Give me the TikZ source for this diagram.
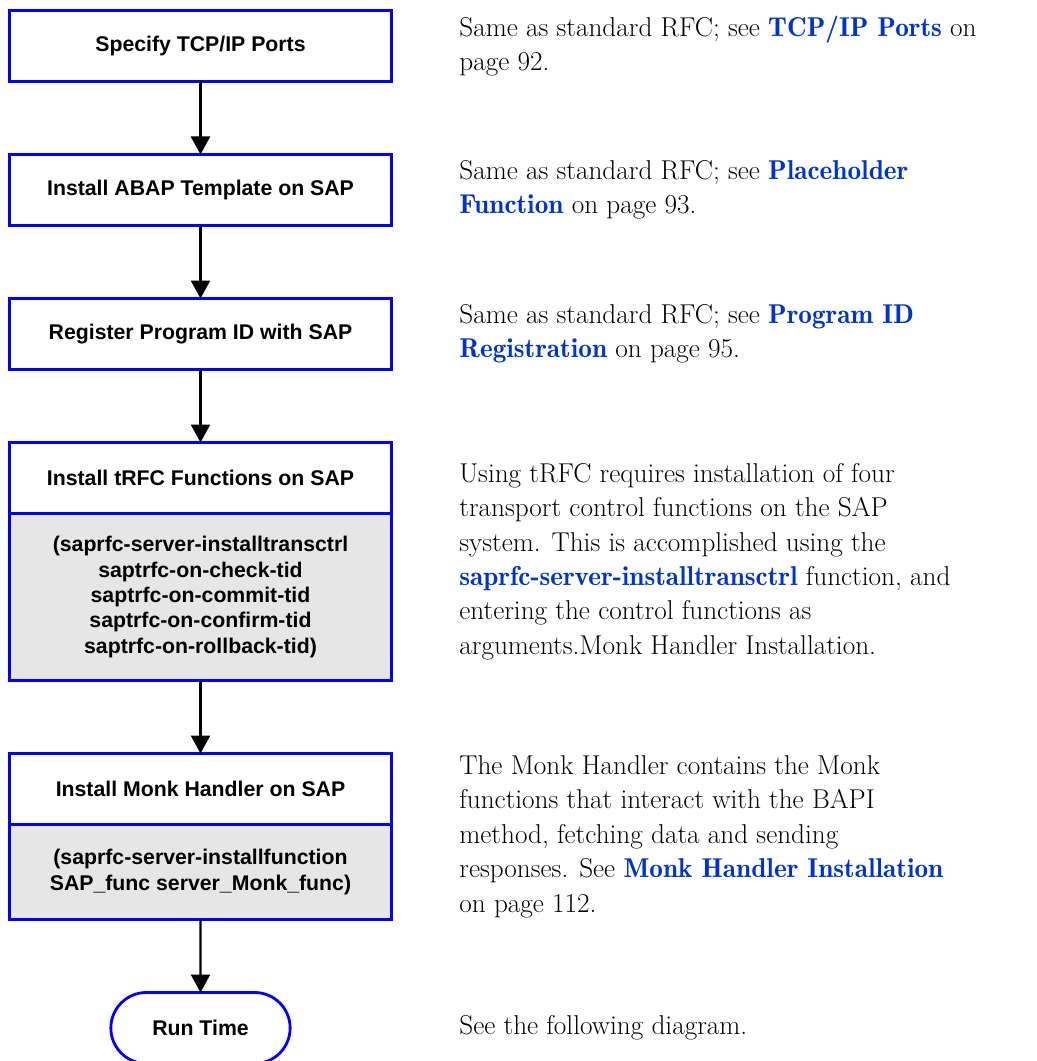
\documentclass[tikz,border=0pt]{standalone}
\usepackage{fontspec}
\setsansfont{Liberation Sans}
\usepackage{xcolor}
\usepackage{tikz}
\usetikzlibrary{arrows.meta,positioning,shapes.misc,calc}
\IfFontExistsTF{lmromandemi10-regular.otf}
  {\newfontfamily\demifont{lmromandemi10-regular.otf}}
  {\newcommand{\demifont}{\bfseries}}
\definecolor{FlowBlue}{HTML}{0000FF}
\definecolor{LinkBlue}{HTML}{0033CC}
\definecolor{ArgGray}{HTML}{E6E6E6}
\newcommand{\xref}[1]{{\demifont\color{LinkBlue}#1}}
\tikzset{
  stepbox/.style={draw=FlowBlue,line width=1.6pt,fill=white,outer sep=0pt,
    minimum width=7.64cm,minimum height=1.42cm,align=center,
    font=\sffamily\bfseries\fontsize{12.1}{14.5}\selectfont},
  argbox/.style={stepbox,fill=ArgGray},
  endbox/.style={stepbox,rounded rectangle,minimum width=3.82cm,minimum height=1.42cm},
  note/.style={inner sep=0pt,align=left,anchor=west,
    font=\fontsize{15.5}{19.6}\selectfont},
  flow/.style={-{Triangle[length=3.6mm,width=3.8mm]},line width=1.4pt,draw=black}
}

\begin{document}
\begin{tikzpicture}[node distance=1.46cm]
  \useasboundingbox (0,0) rectangle (20.72,-21.22);
  \node[stepbox] (ports) at (4.01,-0.92) {Specify TCP/IP Ports};
  \node[stepbox,below=of ports] (template) {Install ABAP Template on SAP};
  \node[stepbox,below=of template] (progid) {Register Program ID with SAP};
  \node[stepbox,below=of progid] (trfc) {Install tRFC Functions on SAP};
  \node[argbox,below=0pt of trfc,minimum height=3.34cm] (trfcargs)
    {(saprfc-server-installtransctrl\\saptrfc-on-check-tid\\saptrfc-on-commit-tid\\
     saptrfc-on-confirm-tid\\saptrfc-on-rollback-tid)};
  \node[stepbox,below=of trfcargs] (monk) {Install Monk Handler on SAP};
  \node[argbox,below=0pt of monk,minimum height=1.9cm] (monkargs)
    {(saprfc-server-installfunction\\SAP\_func server\_Monk\_func)};
  \node[endbox,below=of monkargs] (runtime) {Run Time};

  % notes on the right
  \node[note,right=1.35cm of ports] (portsnote)
    {Same as standard RFC; see \xref{TCP/IP Ports} on\\page 92.};
  \node[note,right=1.35cm of template] (templatenote)
    {Same as standard RFC; see \xref{Placeholder}\\\xref{Function} on page 93.};
  \node[note,right=1.35cm of progid] (progidnote)
    {Same as standard RFC; see \xref{Program ID}\\\xref{Registration} on page 95.};
  \node[note] (trfcnote) at ($(trfc.north east)!.5!(trfcargs.south east)+(1.35,0)$)
    {Using tRFC requires installation of four\\transport control functions on the SAP\\
     system. This is accomplished using the\\\xref{saprfc-server-installtransctrl} function, and\\
     entering the control functions as\\arguments.Monk Handler Installation.};
  \node[note] (monknote) at ($(monk.north east)!.5!(monkargs.south east)+(1.35,0)$)
    {The Monk Handler contains the Monk\\functions that interact with the BAPI\\
     method, fetching data and sending\\responses. See \xref{Monk Handler Installation}\\
     on page 112.};
  \node[note] (runtimenote) at ($(runtime.center -| ports.east)+(1.35,0)$)
    {See the following diagram.};

  \draw[flow] (ports) -- (template);
  \draw[flow] (template) -- (progid);
  \draw[flow] (progid) -- (trfc);
  \draw[flow] (trfcargs) -- (monk);
  \draw[flow] (monkargs) -- (runtime);
\end{tikzpicture}
\end{document}
